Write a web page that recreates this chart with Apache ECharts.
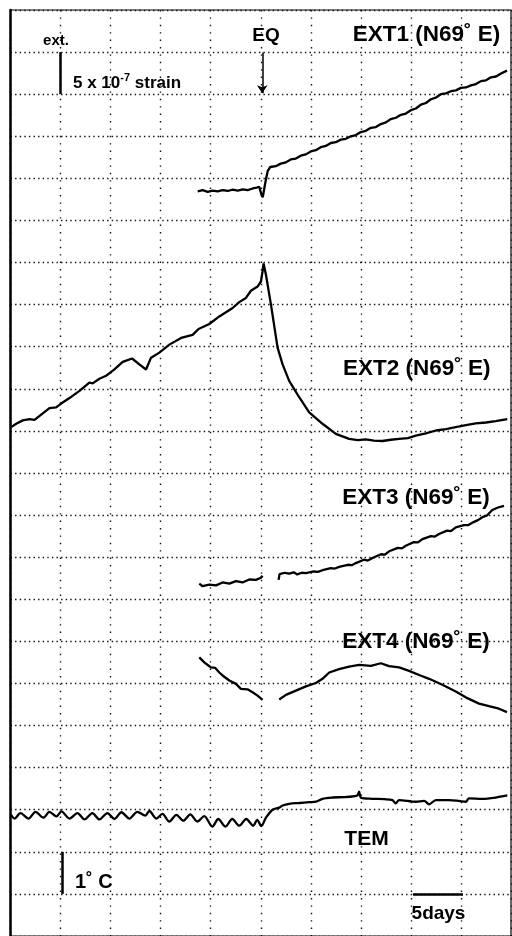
<!DOCTYPE html>
<html>
<head>
<meta charset="utf-8">
<script src="https://cdn.jsdelivr.net/npm/echarts@6/dist/echarts.min.js"></script>
<style>
  html, body { margin: 0; padding: 0; background: #fff; }
  #chart { width: 512px; height: 936px; }
</style>
</head>
<body>
<div id="chart"></div>
<script>
// x = days, y = trace offset in grid rows (1 row = 5 x 10-7 strain, or 1 deg C for TEM)
const ext1 = [
  [18.7, 17.69], [19.2, 17.72], [19.7, 17.68], [20.2, 17.71], [20.7, 17.69], [21.2, 17.72],
  [21.7, 17.70], [22.2, 17.73], [22.7, 17.71], [23.2, 17.74], [23.7, 17.72], [24.2, 17.76],
  [24.6, 17.78], [24.85, 17.80], [25.05, 17.63], [25.2, 17.55], [25.45, 17.89], [25.7, 18.18],
  [25.95, 18.27], [26.5, 18.29], [27, 18.35], [27.5, 18.38], [28, 18.45], [28.5, 18.47],
  [29, 18.54], [29.5, 18.57], [30, 18.64], [30.5, 18.67], [31, 18.74], [31.5, 18.77],
  [32, 18.84], [32.5, 18.86], [33, 18.92], [33.5, 18.94], [34, 19.00], [34.5, 19.03],
  [35, 19.10], [35.5, 19.13], [36, 19.20], [36.5, 19.22], [37, 19.29], [37.5, 19.33],
  [38, 19.41], [38.5, 19.44], [39, 19.51], [39.5, 19.54], [40, 19.62], [40.5, 19.66],
  [41, 19.75], [41.5, 19.79], [42, 19.88], [42.5, 19.92], [43, 20.00], [43.5, 20.02],
  [44, 20.07], [44.5, 20.09], [45, 20.15], [45.5, 20.16], [46, 20.21], [46.5, 20.24],
  [47, 20.31], [47.5, 20.33], [48, 20.40], [48.5, 20.42], [49, 20.49], [49.6, 20.56]
];
const ext2 = [
  [0.07, 12.09], [0.57, 12.17], [1.23, 12.25], [1.9, 12.28], [2.4, 12.26], [2.56, 12.25],
  [3.89, 12.54], [4.56, 12.56], [5.06, 12.65], [5.89, 12.78], [6.89, 12.95], [7.88, 13.15],
  [8.21, 13.13], [8.88, 13.24], [9.55, 13.31], [10.38, 13.46], [11.21, 13.64], [12.15, 13.72],
  [12.87, 13.58], [13.54, 13.46], [14.04, 13.74], [14.87, 13.86], [15.87, 14.05], [17.04, 14.21],
  [18.19, 14.28], [18.79, 14.42], [19.86, 14.54], [20.86, 14.72], [22.19, 14.92], [22.85, 15.06],
  [23.52, 15.16], [24.02, 15.33], [24.68, 15.43], [25.02, 15.55], [25.18, 15.79], [25.28, 15.98],
  [25.52, 15.71], [26.02, 15.00], [26.68, 13.98], [27.18, 13.58], [27.84, 13.19], [28.84, 12.80],
  [29.84, 12.44], [31.17, 12.17], [32.5, 11.93], [33.83, 11.81], [34.7, 11.78], [35.5, 11.80],
  [36.3, 11.77], [37.16, 11.76], [38.0, 11.79], [38.82, 11.81], [39.7, 11.83], [40.49, 11.89],
  [41.5, 11.94], [42.49, 12.01], [43.5, 12.04], [44.48, 12.09], [45.5, 12.14], [46.48, 12.18],
  [47.5, 12.20], [48.47, 12.23], [49.63, 12.28]
];
const ext3Before = [
  [18.86, 8.37], [19.19, 8.31], [19.86, 8.35], [20.53, 8.33], [21.19, 8.40], [21.86, 8.37],
  [22.52, 8.43], [23.18, 8.40], [23.85, 8.47], [24.52, 8.46], [25.02, 8.51], [25.18, 8.56]
];
const ext3After = [
  [26.78, 8.46], [26.88, 8.60], [27.4, 8.63], [27.84, 8.61], [28.3, 8.64], [28.64, 8.59],
  [29.1, 8.63], [29.51, 8.62], [30.3, 8.66], [30.7, 8.65], [31.17, 8.69], [32.0, 8.74],
  [32.4, 8.73], [32.83, 8.77], [33.7, 8.82], [34.1, 8.81], [34.5, 8.86], [35.3, 8.94],
  [35.7, 8.92], [36.16, 8.98], [37.0, 9.07], [37.4, 9.06], [37.82, 9.14], [38.7, 9.22],
  [39.1, 9.21], [39.49, 9.27], [40.3, 9.36], [40.7, 9.35], [41.15, 9.43], [42.0, 9.50],
  [42.4, 9.49], [42.81, 9.55], [43.6, 9.63], [44.0, 9.62], [44.48, 9.71], [45.3, 9.76],
  [45.7, 9.76], [46.14, 9.82], [46.7, 9.88], [47.14, 9.95], [47.6, 9.99], [48.13, 10.12],
  [48.7, 10.18], [49.3, 10.22]
];
const ext4Before = [
  [18.86, 6.62], [19.36, 6.50], [20.03, 6.38], [20.46, 6.37], [20.86, 6.26], [21.19, 6.19],
  [21.86, 6.07], [22.52, 5.99], [23.02, 5.87], [23.68, 5.86], [24.18, 5.79], [24.68, 5.71],
  [25.18, 5.61]
];
const ext4After = [
  [26.85, 5.62], [27.51, 5.73], [28.51, 5.83], [29.51, 5.93], [30.51, 6.01], [31.17, 6.11],
  [31.84, 6.26], [32.83, 6.34], [33.83, 6.40], [34.83, 6.44], [36.0, 6.42], [37.0, 6.48],
  [37.82, 6.41], [38.82, 6.38], [39.82, 6.30], [40.82, 6.20], [41.82, 6.11], [43.14, 5.97],
  [44.48, 5.81], [45.48, 5.67], [46.81, 5.52], [47.8, 5.46], [48.8, 5.40], [49.6, 5.32]
];
const tem = [
  [0.07, 2.88], [0.4, 2.79], [1.0, 2.92], [1.8, 2.79], [2.5, 2.95], [3.29, 2.81],
  [3.89, 2.95], [4.59, 2.84], [5.09, 2.96], [5.89, 2.79], [6.69, 2.92], [7.39, 2.77],
  [8.18, 2.92], [8.88, 2.77], [9.68, 2.92], [10.38, 2.78], [11.08, 2.94], [11.88, 2.79],
  [12.67, 2.95], [13.47, 2.86], [13.87, 2.97], [14.57, 2.79], [15.17, 2.90], [15.87, 2.72],
  [16.57, 2.88], [17.27, 2.74], [17.96, 2.89], [18.66, 2.72], [19.36, 2.85], [20.16, 2.60],
  [20.76, 2.78], [21.46, 2.60], [22.16, 2.78], [22.85, 2.62], [23.55, 2.78], [24.25, 2.62],
  [24.65, 2.76], [25.05, 2.61], [25.52, 2.81], [26.18, 3.00], [26.85, 3.05], [27.18, 3.10],
  [27.84, 3.14], [28.84, 3.16], [29.84, 3.18], [30.51, 3.19], [31.17, 3.26], [32.17, 3.29],
  [33.33, 3.30], [34.33, 3.32], [34.66, 3.34], [34.83, 3.43], [35.03, 3.28], [36.16, 3.26],
  [37.33, 3.25], [38.15, 3.23], [38.49, 3.15], [38.82, 3.23], [40.49, 3.19], [41.32, 3.21],
  [41.82, 3.13], [42.49, 3.23], [43.81, 3.23], [44.81, 3.21], [45.48, 3.19], [45.81, 3.27],
  [47.14, 3.26], [48.47, 3.29], [49.63, 3.34]
];

const FONT = 'Liberation Sans, Arial, sans-serif';

function trace(data, smooth) {
  return {
    type: 'line',
    data: data,
    showSymbol: false,
    silent: true,
    smooth: smooth || false,
    lineStyle: { color: '#000', width: 2.3 }
  };
}

function label(text, x, y, size, align) {
  return {
    type: 'text',
    x: x,
    y: y,
    silent: true,
    style: {
      text: text,
      fill: '#000',
      fontFamily: FONT,
      fontWeight: 'bold',
      fontSize: size,
      align: align || 'center',
      verticalAlign: 'middle'
    }
  };
}

const chart = echarts.init(document.getElementById('chart'));
chart.setOption({
  animation: false,
  backgroundColor: '#fff',
  grid: {
    left: 10.5, right: 1, top: 10, bottom: -6,
    show: true, borderColor: '#000', borderWidth: 1.2
  },
  xAxis: {
    type: 'value', min: 0, max: 50, interval: 5,
    axisLine: { show: false }, axisTick: { show: false }, axisLabel: { show: false },
    splitLine: { show: true, lineStyle: { color: '#111', width: 1.4, type: [1.4, 6] } }
  },
  yAxis: {
    type: 'value', min: 0, max: 22, interval: 1,
    axisLine: { show: true, lineStyle: { color: '#000', width: 2.5 } },
    axisTick: { show: false }, axisLabel: { show: false },
    splitLine: { show: true, lineStyle: { color: '#111', width: 1.4, type: [1.4, 3.2] } }
  },
  series: [
    trace(ext1), trace(ext2), trace(ext3Before), trace(ext3After),
    trace(ext4Before), trace(ext4After), trace(tem, 0.3),
    {
      type: 'line', data: [], silent: true,
      markLine: {
        silent: true, animation: false, symbol: 'none', label: { show: false },
        lineStyle: { color: '#000', type: 'solid', width: 2.5 },
        data: [
          [{ coord: [4.95, 21] }, { coord: [4.95, 20] }],
          [{ coord: [5.12, 2] }, { coord: [5.12, 1] }],
          [{ coord: [40.2, 0.985] }, { coord: [45.2, 0.985] }]
        ]
      }
    },
    {
      type: 'line', data: [], silent: true,
      markLine: {
        silent: true, animation: false, symbol: ['none', 'arrow'], symbolSize: 8,
        label: { show: false },
        lineStyle: { color: '#000', type: 'solid', width: 1.5 },
        data: [[{ coord: [25.15, 20.99] }, { coord: [25.15, 20.02] }]]
      }
    }
  ],
  graphic: [
    label('ext.', 56, 41, 15),
    {
      type: 'text', x: 73, y: 82, silent: true,
      style: {
        text: '{m|5 x 10}{s|-7}{m| strain}',
        fill: '#000', align: 'left', verticalAlign: 'middle',
        rich: {
          m: { fontFamily: FONT, fontWeight: 'bold', fontSize: 17, lineHeight: 20, verticalAlign: 'bottom' },
          s: { fontFamily: FONT, fontWeight: 'bold', fontSize: 11, lineHeight: 20, verticalAlign: 'top' }
        }
      }
    },
    label('EQ', 266, 35.5, 19),
    label('EXT1 (N69\u02DA E)', 426.5, 34.5, 22.5),
    label('EXT2 (N69\u02DA E)', 416.7, 368.5, 22.5),
    label('EXT3 (N69\u02DA E)', 416, 497.5, 22.5),
    label('EXT4 (N69\u02DA E)', 416, 641.5, 22.5),
    label('TEM', 366.5, 839, 21),
    label('1\u02DA C', 75, 882.5, 20, 'left'),
    label('5days', 438.5, 913.5, 19)
  ]
});
</script>
</body>
</html>
